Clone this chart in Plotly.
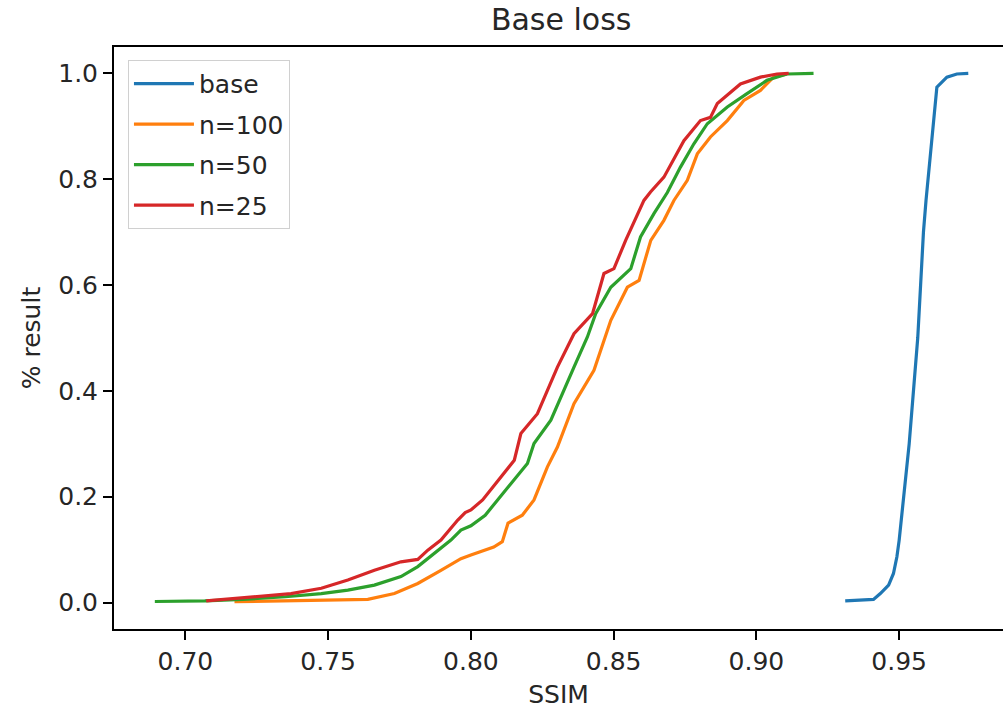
import plotly.graph_objects as go

# ---- data ----
base_x = [0.9311, 0.941, 0.9434, 0.9463, 0.948, 0.9492, 0.95, 0.9515, 0.9535, 0.955,
          0.9565, 0.9575, 0.9585, 0.9594, 0.9614, 0.9632, 0.9667, 0.9702, 0.9742]
base_y = [0.003, 0.006, 0.017, 0.033, 0.055, 0.0865, 0.118, 0.2, 0.3, 0.4,
          0.5, 0.6, 0.7, 0.760, 0.873, 0.974, 0.993, 0.999, 1.0]

n100_x = [0.7172, 0.74, 0.7639, 0.7732, 0.7814, 0.7895, 0.7965, 0.80, 0.808, 0.811,
          0.813, 0.818, 0.8221, 0.8268, 0.8303, 0.8361, 0.8431, 0.849, 0.8548, 0.8589,
          0.863, 0.8676, 0.8711, 0.8758, 0.8793, 0.8839, 0.8898, 0.8956, 0.9014, 0.906, 0.9107]
n100_y = [0.0015, 0.003, 0.006, 0.017, 0.036, 0.061, 0.083, 0.09, 0.105, 0.115,
          0.15, 0.165, 0.194, 0.2565, 0.294, 0.376, 0.439, 0.5335, 0.596, 0.609,
          0.6846, 0.7224, 0.760, 0.798, 0.848, 0.880, 0.911, 0.949, 0.968, 0.993, 0.999]

n50_x = [0.6893, 0.7068, 0.72, 0.735, 0.7476, 0.7569, 0.7662, 0.7755, 0.7814, 0.7872,
         0.793, 0.7965, 0.80, 0.805, 0.8093, 0.8198, 0.8221, 0.828, 0.8361, 0.8408,
         0.8437, 0.849, 0.856, 0.8594, 0.8641, 0.8688, 0.8734, 0.8781, 0.8828, 0.8898,
         0.8967, 0.9037, 0.9107, 0.92]
n50_y = [0.002, 0.003, 0.006, 0.011, 0.017, 0.0236, 0.033, 0.049, 0.068, 0.093,
         0.118, 0.137, 0.145, 0.165, 0.194, 0.263, 0.3007, 0.3447, 0.445, 0.502,
         0.546, 0.596, 0.631, 0.691, 0.735, 0.775, 0.823, 0.867, 0.905, 0.9365,
         0.962, 0.987, 0.999, 1.0]

n25_x = [0.7073, 0.7254, 0.737, 0.7476, 0.7569, 0.7662, 0.7755, 0.7814, 0.7849, 0.7895,
         0.7954, 0.798, 0.80, 0.8041, 0.81, 0.8152, 0.8175, 0.8233, 0.8303, 0.8361,
         0.8426, 0.8466, 0.8501, 0.8542, 0.8606, 0.8629, 0.8676, 0.8746, 0.8804, 0.8839,
         0.8863, 0.8944, 0.9014, 0.9072, 0.9113]
n25_y = [0.003, 0.011, 0.017, 0.027, 0.0425, 0.061, 0.077, 0.0816, 0.099, 0.118,
         0.156, 0.17, 0.175, 0.194, 0.235, 0.269, 0.3195, 0.357, 0.445, 0.508,
         0.546, 0.622, 0.631, 0.6846, 0.760, 0.776, 0.804, 0.873, 0.911, 0.917,
         0.943, 0.980, 0.993, 0.999, 1.0]

series_names = ["base", "n=100", "n=50", "n=25"]
series_colors = ["#1f77b4", "#ff7f0e", "#2ca02c", "#d62728"]

x_ticks = [0.70, 0.75, 0.80, 0.85, 0.90, 0.95]
y_ticks = [0.0, 0.2, 0.4, 0.6, 0.8, 1.0]

FONT = "DejaVu Sans"
TXT = "#262626"

fig = go.Figure()
for i, (name, xs, ys) in enumerate(zip(series_names,
                                      [base_x, n100_x, n50_x, n25_x],
                                      [base_y, n100_y, n50_y, n25_y])):
    fig.add_trace(go.Scatter(x=xs, y=ys, mode="lines", name=name,
                             legendgroup=f"g{i}",
                             line=dict(color=series_colors[i], width=3.2)))

fig.update_layout(
    width=1003, height=713,
    margin=dict(l=114, r=0, t=47, b=84),
    paper_bgcolor="white", plot_bgcolor="white",
    font=dict(family=FONT, size=25, color=TXT),
    title=dict(text="Base loss", x=0.503, xref="paper", xanchor="center",
               y=0.972, yref="container", yanchor="middle",
               font=dict(family=FONT, size=30, color=TXT)),
    showlegend=True,
    legend=dict(x=0.0157, y=0.978, xanchor="left", yanchor="top",
                bgcolor="rgba(255,255,255,0.8)", bordercolor="#d0d0d0", borderwidth=1,
                font=dict(family=FONT, size=25, color=TXT),
                traceorder="grouped", tracegroupgap=5, itemwidth=60),
)

fig.update_xaxes(range=[0.675, 0.98636], tickvals=x_ticks, tickformat=".2f",
                 showgrid=False, zeroline=False,
                 showline=True, mirror=True, linecolor="black", linewidth=2,
                 ticks="outside", ticklen=9, tickwidth=2, tickcolor="black",
                 tickfont=dict(family=FONT, size=25, color=TXT),
                 title=dict(text="SSIM", standoff=10, font=dict(family=FONT, size=25, color=TXT)))
fig.update_yaxes(range=[-0.05, 1.05], tickvals=y_ticks, tickformat=".1f",
                 showgrid=False, zeroline=False,
                 showline=True, mirror=False, linecolor="black", linewidth=2,
                 ticks="outside", ticklen=9, tickwidth=2, tickcolor="black",
                 tickfont=dict(family=FONT, size=25, color=TXT),
                 title=dict(text="% result", standoff=10, font=dict(family=FONT, size=25, color=TXT)))

fig.write_html("out.html")
